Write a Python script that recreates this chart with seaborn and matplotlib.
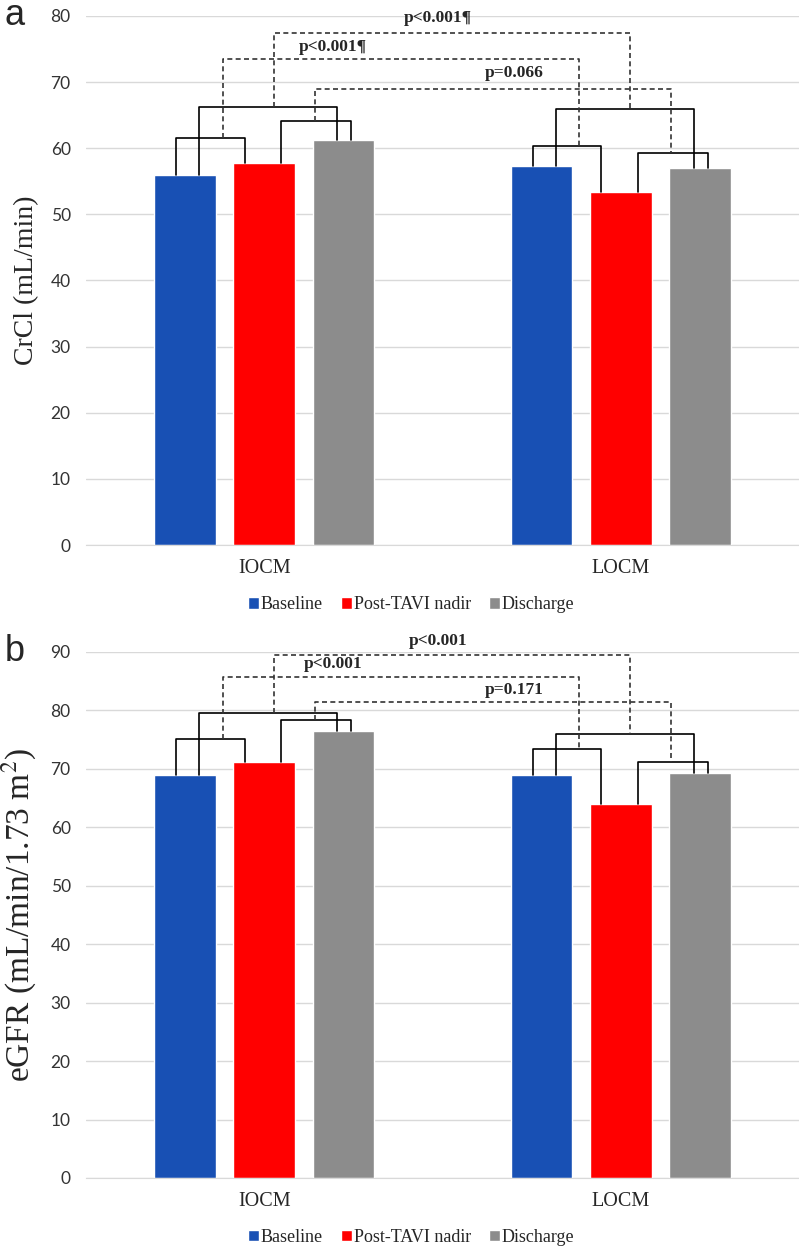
import pandas as pd
import matplotlib
matplotlib.use('Agg')
import matplotlib.pyplot as plt
import seaborn as sns

# data
groups = ['IOCM', 'LOCM']
phases = ['Baseline', 'Post-TAVI nadir', 'Discharge']
colors = ['#1850b4', '#ff0000', '#8c8c8c']

crcl_iocm = [56.0, 57.8, 61.3]
crcl_locm = [57.3, 53.4, 57.0]
egfr_iocm = [69.0, 71.2, 76.5]
egfr_locm = [68.9, 64.0, 69.2]

# within-group bracket heights: Baseline-Post, Baseline-Discharge, Post-Discharge
crcl_brk_iocm = [61.6, 66.3, 64.1]
crcl_brk_locm = [60.4, 65.9, 59.3]
egfr_brk_iocm = [75.1, 79.5, 78.3]
egfr_brk_locm = [73.4, 75.9, 71.2]

# between-group comparisons (same order)
crcl_dash = [73.5, 77.4, 69.0]
crcl_p = ['p<0.001¶', 'p<0.001¶', 'p=0.066']
crcl_p_y = [75.3, 79.7, 71.4]
egfr_dash = [85.7, 89.4, 81.4]
egfr_p = ['p<0.001', 'p<0.001', 'p=0.171']
egfr_p_y = [87.9, 91.8, 83.4]

pairs = [(0, 1), (0, 2), (1, 2)]
leg_off = [(-0.025, -0.055), (0.04, -0.017), (0.048, 0.022)]
dash_frac = [0.68, 0.54, 0.48]   # where the dashed leg sits on the solid bracket
label_frac = [0.31, 0.46, 0.56]

sns.set_style('white')
plt.rcParams['font.family'] = ['Liberation Serif', 'DejaVu Serif']
plt.rcParams['mathtext.fontset'] = 'stix'


def make_df(iocm, locm):
    rows = []
    for g, vals in zip(groups, [iocm, locm]):
        for p, v in zip(phases, vals):
            rows.append({'group': g, 'phase': p, 'value': v})
    return pd.DataFrame(rows)


def draw_panel(ax, df, ymax, ylabel, ylsize, brk, dash, plabels, p_y, letter):
    sns.barplot(data=df, x='group', y='value', hue='phase', palette=colors,
                width=0.666, gap=0.22, saturation=1, ax=ax)
    ax.set_ylim(0, ymax)
    ax.set_xlim(-0.5, 1.5)
    ax.set_yticks(range(0, ymax + 1, 10))
    ax.yaxis.grid(True, color='#d9d9d9', lw=1)
    ax.set_axisbelow(True)
    for s in ['top', 'right', 'left']:
        ax.spines[s].set_visible(False)
    ax.spines['bottom'].set_color('#d9d9d9')
    ax.tick_params(axis='y', length=0, pad=11)
    ax.tick_params(axis='x', length=0, pad=10, labelsize=14.5)
    for t in ax.get_yticklabels():
        t.set_family('Lato')
        t.set_fontsize(12.5)
        t.set_color('#333333')
    ax.set_xlabel('')
    ax.set_ylabel(ylabel, fontsize=ylsize, labelpad=8)

    xs = [[b.get_x() + b.get_width() / 2 for b in c] for c in ax.containers]
    tops = [[b.get_height() for b in c] for c in ax.containers]

    feet = []
    for g in range(2):
        m = []
        for k, (i, j) in enumerate(pairs):
            x1 = xs[i][g] + leg_off[k][0]
            x2 = xs[j][g] + leg_off[k][1]
            h = brk[g][k]
            ax.plot([x1, x1, x2, x2], [tops[i][g], h, h, tops[j][g]],
                    color='black', lw=1.2)
            m.append(x1 + dash_frac[k] * (x2 - x1))
        feet.append(m)

    for k in range(3):
        xa, xb = feet[0][k], feet[1][k]
        ax.plot([xa, xa, xb, xb], [brk[0][k], dash[k], dash[k], brk[1][k]],
                color='#333333', lw=1.2, ls=(0, (3, 2)))
        ax.text(xa + label_frac[k] * (xb - xa), p_y[k], plabels[k],
                ha='center', va='center', fontsize=12.5, fontweight='bold')

    sns.move_legend(ax, 'center', bbox_to_anchor=(0.456, -0.113), ncol=3,
                    frameon=False, title=None, fontsize=13, handlelength=0.6,
                    handleheight=0.6, handletextpad=0.1, columnspacing=1.0)
    ax.text(-0.1, 1.0, letter, transform=ax.transAxes, fontsize=26,
            family='Liberation Sans', ha='center', va='center')


fig = plt.figure(figsize=(7.99, 12.48), dpi=100)
ax1 = fig.add_axes([0.1076, 0.5633, 0.8924, 0.4239])
ax2 = fig.add_axes([0.1076, 0.0561, 0.8924, 0.4217])

draw_panel(ax1, make_df(crcl_iocm, crcl_locm), 80, 'CrCl (mL/min)', 20,
           [crcl_brk_iocm, crcl_brk_locm], crcl_dash, crcl_p, crcl_p_y, 'a')
draw_panel(ax2, make_df(egfr_iocm, egfr_locm), 90,
           r'eGFR (mL/min/1.73 m$^{2}$)', 24,
           [egfr_brk_iocm, egfr_brk_locm], egfr_dash, egfr_p, egfr_p_y, 'b')

plt.savefig('out.png', dpi=100)
